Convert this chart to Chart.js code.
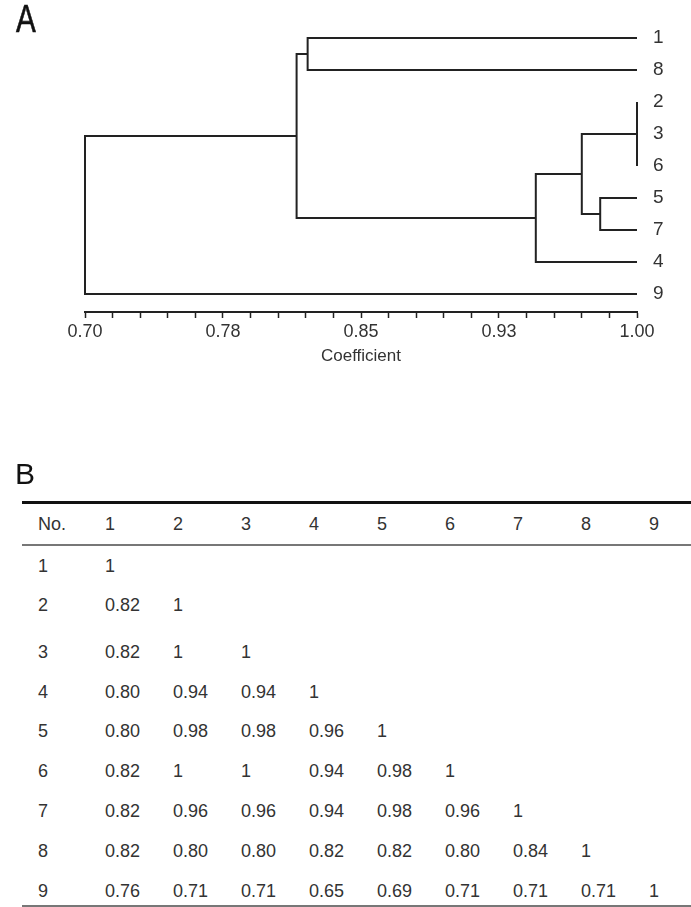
<!DOCTYPE html>
<html>
<head>
<meta charset="utf-8">
<script src="https://cdn.jsdelivr.net/npm/chart.js@4.4.1/dist/chart.umd.min.js"></script>
<style>
  body { margin: 0; background: #fff; font-family: "Liberation Sans", Arial, sans-serif; color: #333; }
  #wrap { position: relative; width: 691px; height: 907px; overflow: hidden; }
  #dendro { position: absolute; left: 0; top: 0; }
  .panel { position: absolute; font-size: 38px; line-height: 1; color: #111; }
  #labA { left: 16px; top: 0; transform: scaleX(0.78); transform-origin: left top; -webkit-text-stroke: 0.6px #111; }
  #labB { left: 15px; top: 459px; font-size: 30px; }
  #sim { position: absolute; left: 22px; top: 501px; width: 669px; border-collapse: collapse; table-layout: fixed; font-size: 18px; color: #333; }
  #sim td, #sim th { padding: 0; text-align: left; vertical-align: top; line-height: 20px; font-weight: normal; }
  #sim thead tr { border-top: 3px solid #111; border-bottom: 2px solid #777; }
  #sim thead th { height: 40px; vertical-align: middle; }
  #sim tbody tr:last-child { border-bottom: 2px solid #777; }
  #sim .first { padding-left: 16px; }
</style>
</head>
<body>
<div id="wrap">
  <canvas id="dendro" width="691" height="369"></canvas>
  <div class="panel" id="labA">A</div>
  <div class="panel" id="labB">B</div>
  <table id="sim"></table>
</div>
<script>
// dendrogram: leaves top to bottom, and the joins (children, coefficient)
const leafOrder = ['1', '8', '2', '3', '6', '5', '7', '4', '9'];
const nodeIds = ['n236', 'n57', 'n23657', 'n236574', 'n18', 'n18236574', 'root'];
const nodeChildren = [
  ['2', '3', '6'],
  ['5', '7'],
  ['n236', 'n57'],
  ['n23657', '4'],
  ['1', '8'],
  ['n18', 'n236574'],
  ['n18236574', '9']
];
const nodeCoef = [1.00, 0.98, 0.97, 0.945, 0.821, 0.815, 0.70];
const leafCoef = 1.00;

const xTickValues = [0.70, 0.775, 0.85, 0.925, 1.00];
const xTickLabels = ['0.70', '0.78', '0.85', '0.93', '1.00'];
const xMinorStep = 0.015;

// similarity table
const tableIds = ['1', '2', '3', '4', '5', '6', '7', '8', '9'];
const simRows = [
  ['1'],
  ['0.82', '1'],
  ['0.82', '1', '1'],
  ['0.80', '0.94', '0.94', '1'],
  ['0.80', '0.98', '0.98', '0.96', '1'],
  ['0.82', '1', '1', '0.94', '0.98', '1'],
  ['0.82', '0.96', '0.96', '0.94', '0.98', '0.96', '1'],
  ['0.82', '0.80', '0.80', '0.82', '0.82', '0.80', '0.84', '1'],
  ['0.76', '0.71', '0.71', '0.65', '0.69', '0.71', '0.71', '0.71', '1']
];

// position of every leaf / node: x = coefficient, y = leaf index
const pos = {};
leafOrder.forEach((l, i) => { pos[l] = { x: leafCoef, y: i }; });
nodeIds.forEach((id, k) => {
  const kids = nodeChildren[k].map(c => pos[c]);
  pos[id] = { x: nodeCoef[k], y: (kids[0].y + kids[kids.length - 1].y) / 2 };
});

const lineStyle = { showLine: true, pointRadius: 0, borderColor: '#222', borderWidth: 2, clip: false };
const datasets = [];
nodeIds.forEach((id, k) => {
  const nx = nodeCoef[k];
  const kids = nodeChildren[k].map(c => pos[c]);
  const a = kids[0], b = kids[kids.length - 1];
  datasets.push(Object.assign({
    data: [{ x: a.x, y: a.y }, { x: nx, y: a.y }, { x: nx, y: b.y }, { x: b.x, y: b.y }]
  }, lineStyle));
  kids.slice(1, -1).forEach(m => {
    datasets.push(Object.assign({ data: [{ x: m.x, y: m.y }, { x: nx, y: m.y }] }, lineStyle));
  });
});

const txt = '#333';
new Chart(document.getElementById('dendro'), {
  type: 'scatter',
  data: { datasets: datasets },
  options: {
    responsive: false,
    animation: false,
    layout: { padding: { left: 85, top: 22, right: 0, bottom: 0 } },
    plugins: { legend: { display: false }, tooltip: { enabled: false } },
    scales: {
      x: {
        type: 'linear',
        min: 0.70,
        max: 1.00,
        afterBuildTicks: s => {
          const t = [];
          for (let k = 0; k <= 20; k++) t.push({ value: 0.70 + k * xMinorStep });
          s.ticks = t;
        },
        afterFit: s => { s.height = 57; },
        ticks: {
          autoSkip: false,
          maxRotation: 0,
          padding: 3,
          color: txt,
          font: { family: 'Liberation Sans', size: 18 },
          callback: (v, i) => (i % 5 === 0 ? xTickLabels[i / 5] : '')
        },
        grid: { drawOnChartArea: false, drawTicks: true, tickLength: 6, tickColor: '#222', tickWidth: 1.5 },
        border: { display: true, color: '#222', width: 2 },
        title: {
          display: true,
          text: 'Coefficient',
          color: txt,
          font: { family: 'Liberation Sans', size: 17 },
          padding: { top: 2, bottom: 2 }
        }
      },
      y: {
        type: 'linear',
        position: 'right',
        reverse: true,
        min: -0.5,
        max: 8.5625,
        afterBuildTicks: s => { s.ticks = leafOrder.map((_, i) => ({ value: i })); },
        afterFit: s => { s.width = 54; },
        ticks: {
          autoSkip: false,
          padding: 8,
          color: txt,
          font: { family: 'Liberation Sans', size: 19 },
          callback: v => leafOrder[v]
        },
        grid: { display: false },
        border: { display: false }
      }
    }
  }
});

// table B
const colWidths = [83, 68, 68, 68, 68, 68, 68, 68, 68, 42];
const rowHeights = [40, 40, 47, 40, 39, 40, 40, 40, 35];
const rowPadTop = [10, 10, 17, 10, 9, 10, 10, 10, 10];
const table = document.getElementById('sim');
const cg = document.createElement('colgroup');
colWidths.forEach(w => { const c = document.createElement('col'); c.style.width = w + 'px'; cg.appendChild(c); });
table.appendChild(cg);
const thead = document.createElement('thead');
const hr = document.createElement('tr');
['No.'].concat(tableIds).forEach((h, i) => {
  const th = document.createElement('th');
  th.textContent = h;
  if (i === 0) th.className = 'first';
  hr.appendChild(th);
});
thead.appendChild(hr);
table.appendChild(thead);
const tbody = document.createElement('tbody');
simRows.forEach((row, r) => {
  const tr = document.createElement('tr');
  tr.style.height = rowHeights[r] + 'px';
  for (let c = 0; c <= tableIds.length; c++) {
    const td = document.createElement('td');
    td.style.paddingTop = rowPadTop[r] + 'px';
    if (c === 0) { td.className = 'first'; td.textContent = tableIds[r]; }
    else td.textContent = row[c - 1] || '';
    tr.appendChild(td);
  }
  tbody.appendChild(tr);
});
table.appendChild(tbody);
</script>
</body>
</html>
